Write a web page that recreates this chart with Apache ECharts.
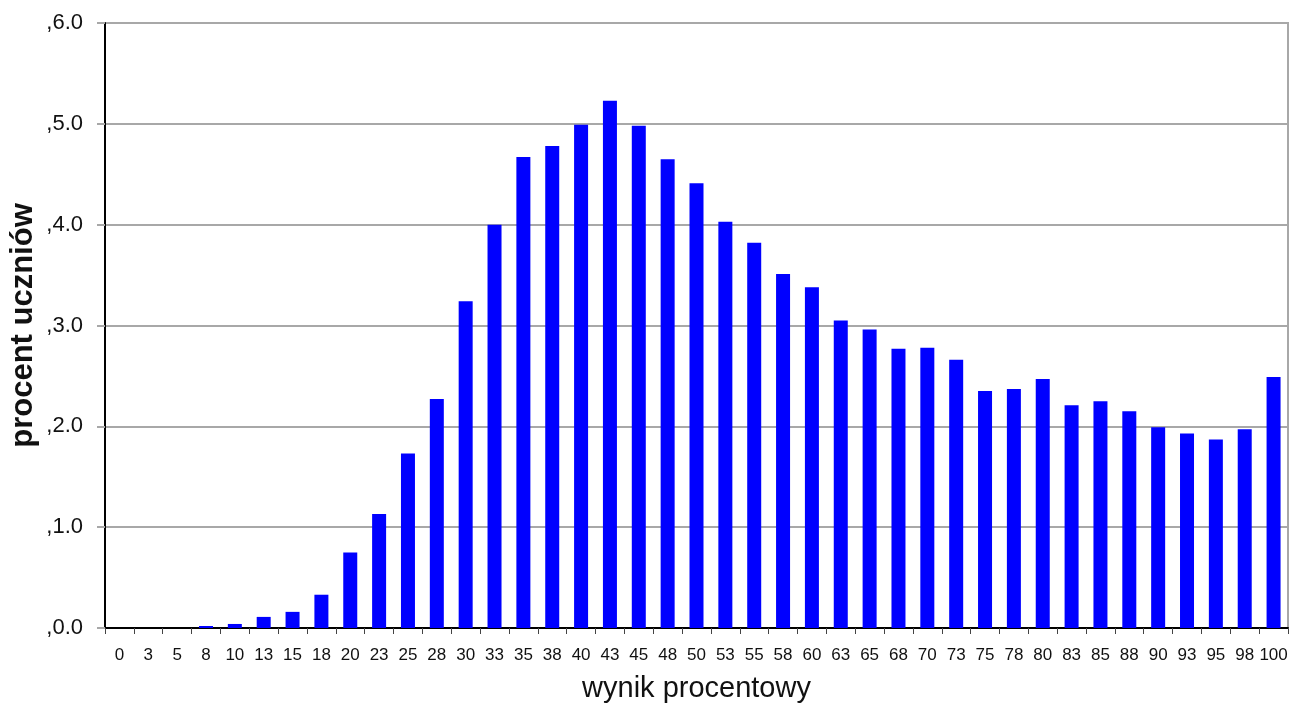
<!DOCTYPE html>
<html>
<head>
<meta charset="utf-8">
<script src="https://cdn.jsdelivr.net/npm/echarts@6/dist/echarts.min.js"></script>
<style>
html,body{margin:0;padding:0;background:#fff;}
#chart{width:1303px;height:706px;}
</style>
</head>
<body>
<div id="chart"></div>
<script>
const categories = ['0','3','5','8','10','13','15','18','20','23','25','28','30','33','35','38','40','43','45','48','50','53','55','58','60','63','65','68','70','73','75','78','80','83','85','88','90','93','95','98','100'];
const percentValues = [0, 0, 0, 0.02, 0.04, 0.11, 0.16, 0.33, 0.75, 1.13, 1.73, 2.27, 3.24, 4.00, 4.67, 4.78, 4.99, 5.23, 4.98, 4.65, 4.41, 4.03, 3.82, 3.51, 3.38, 3.05, 2.96, 2.77, 2.78, 2.66, 2.35, 2.37, 2.47, 2.21, 2.25, 2.15, 1.99, 1.93, 1.87, 1.97, 2.49];
const xAxisTitle = 'wynik procentowy';
const yAxisTitle = 'procent uczniów';

const chart = echarts.init(document.getElementById('chart'), null, {renderer: 'canvas'});
chart.setOption({
  backgroundColor: '#ffffff',
  animation: false,
  grid: {
    left: 105, right: 15, top: 23, bottom: 78,
    containLabel: false,
    outerBoundsMode: 'none',
    show: true, borderColor: '#a8a8a8', borderWidth: 2, backgroundColor: 'transparent'
  },
  xAxis: {
    type: 'category',
    data: categories,
    boundaryGap: true,
    name: xAxisTitle,
    nameLocation: 'middle',
    nameGap: 46,
    nameMoveOverlap: false,
    nameTextStyle: {fontFamily: 'Arial, "Liberation Sans", sans-serif', fontSize: 29, color: '#111'},
    axisLine: {show: true, lineStyle: {color: '#000', width: 2}},
    axisTick: {show: true, alignWithLabel: false, length: 6, lineStyle: {color: '#444', width: 1}},
    axisLabel: {
      interval: 0, margin: 19,
      fontFamily: '"Liberation Sans Narrow", "Arial Narrow", Arial, "Liberation Sans", sans-serif',
      fontSize: 17, color: '#111'
    },
    splitLine: {show: false}
  },
  yAxis: {
    type: 'value',
    min: 0, max: 6, interval: 1,
    name: yAxisTitle,
    nameLocation: 'middle',
    nameGap: 66,
    nameMoveOverlap: false,
    nameRotate: 90,
    nameTextStyle: {fontFamily: 'Arial, "Liberation Sans", sans-serif', fontSize: 31, fontWeight: 'bold', color: '#111'},
    axisLine: {show: true, lineStyle: {color: '#000', width: 2}},
    axisTick: {show: true, length: 8, inside: false, lineStyle: {color: '#a8a8a8', width: 2}},
    axisLabel: {
      margin: 22,
      padding: [4, 0, 0, 0],
      fontFamily: 'Arial, "Liberation Sans", sans-serif',
      fontSize: 22, color: '#111',
      formatter: function (v) { return ',' + v.toFixed(1); }
    },
    splitLine: {show: true, lineStyle: {color: '#a8a8a8', width: 2}}
  },
  series: [{
    type: 'bar',
    data: percentValues,
    barWidth: 14,
    itemStyle: {color: '#0000ff'},
    z: 3
  }]
});
</script>
</body>
</html>
